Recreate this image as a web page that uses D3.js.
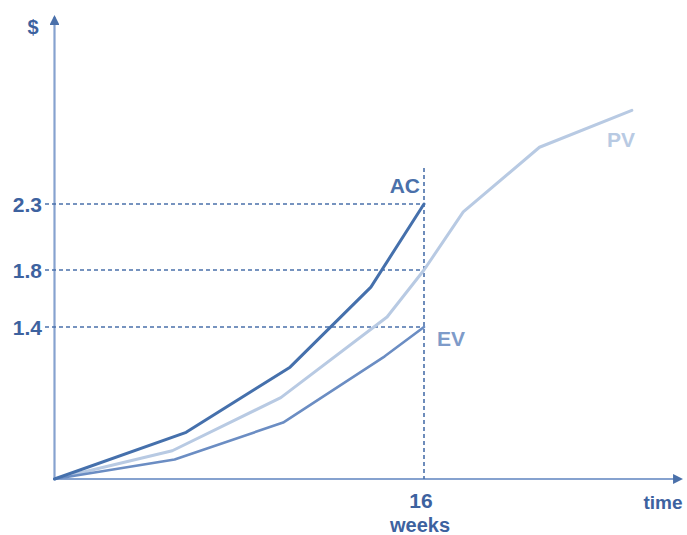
<!DOCTYPE html>
<html>
<head>
<meta charset="utf-8">
<script src="https://cdn.jsdelivr.net/npm/d3@7"></script>
<style>
  html, body { margin: 0; padding: 0; background: #fff; }
  svg { display: block; font-family: "Liberation Sans", Arial, sans-serif; font-weight: bold; }
</style>
</head>
<body>
<svg id="chart" width="687" height="535"></svg>
<script>
// Earned value curves: time in weeks, cost in $
const acWeeks = [0, 5.7, 10.2, 13.7, 16];
const acValues = [0, 0.43, 1.03, 1.68, 2.3];

const pvWeeks = [0, 5.1, 9.8, 14.4, 16, 17.7, 21.0, 25.0];
const pvValues = [0, 0.26, 0.75, 1.47, 1.8, 2.24, 2.73, 3.01];

const evWeeks = [0, 5.2, 9.9, 14.3, 16];
const evValues = [0, 0.18, 0.52, 1.13, 1.4];

const yTickValues = [1.4, 1.8, 2.3];
const xTickValue = 16;
const statusLabels = { ac: "AC", pv: "PV", ev: "EV" };

const svg = d3.select("#chart");
const textColor = "#3d629f";
const axisColor = "#86a2cf";
const guideColor = "#4a70aa";

// Scales: the value axis is piecewise so each labelled level sits on its guide
const x = d3.scaleLinear().domain([0, 16]).range([54.5, 424]);
const y = d3.scaleLinear().domain([0, 1.4, 1.8, 2.3]).range([479, 327, 270, 204]);

// Arrow marker for axes
const defs = svg.append("defs");
defs.append("marker")
  .attr("id", "arrow")
  .attr("viewBox", "0 0 10 10")
  .attr("refX", 8).attr("refY", 5)
  .attr("markerWidth", 4.5).attr("markerHeight", 4.5)
  .attr("orient", "auto")
  .append("path").attr("d", "M0,0 L10,5 L0,10 z").attr("fill", "#4a70aa");

// Axes
svg.append("line")
  .attr("x1", x(0)).attr("y1", y(0)).attr("x2", x(0)).attr("y2", 17)
  .attr("stroke", axisColor).attr("stroke-width", 2.2)
  .attr("marker-end", "url(#arrow)");
svg.append("line")
  .attr("x1", x(0)).attr("y1", y(0)).attr("x2", 681).attr("y2", y(0))
  .attr("stroke", axisColor).attr("stroke-width", 2.2)
  .attr("marker-end", "url(#arrow)");

// Horizontal guides for the labelled levels
svg.selectAll(".hguide").data(yTickValues).join("line")
  .attr("class", "hguide")
  .attr("x1", 45).attr("x2", x(xTickValue))
  .attr("y1", d => y(d)).attr("y2", d => y(d))
  .attr("stroke", guideColor).attr("stroke-width", 1.6)
  .attr("stroke-dasharray", "4,3");

// Vertical status-date guide
svg.append("line")
  .attr("x1", x(xTickValue)).attr("x2", x(xTickValue))
  .attr("y1", 168).attr("y2", y(0))
  .attr("stroke", guideColor).attr("stroke-width", 1.6)
  .attr("stroke-dasharray", "4,3");

// Tick labels
svg.selectAll(".ylab").data(yTickValues).join("text")
  .attr("class", "ylab")
  .attr("x", 42).attr("y", d => y(d))
  .attr("dy", "0.36em")
  .attr("text-anchor", "end")
  .attr("font-size", 21)
  .attr("fill", textColor)
  .text(d => d.toFixed(1));

svg.append("text")
  .attr("x", x(xTickValue) - 3).attr("y", 508)
  .attr("text-anchor", "middle").attr("font-size", 21).attr("fill", textColor)
  .text(xTickValue);
svg.append("text")
  .attr("x", x(xTickValue) - 4).attr("y", 532)
  .attr("text-anchor", "middle").attr("font-size", 20).attr("fill", textColor)
  .text("weeks");
svg.append("text")
  .attr("x", 663).attr("y", 509)
  .attr("text-anchor", "middle").attr("font-size", 19).attr("fill", textColor)
  .text("time");
svg.append("text")
  .attr("x", 33).attr("y", 34)
  .attr("text-anchor", "middle").attr("font-size", 20).attr("fill", textColor)
  .text("$");

// Curves
const line = d3.line().x(d => x(d[0])).y(d => y(d[1]));
const series = [
  { key: "pv", weeks: pvWeeks, values: pvValues, color: "#b8cae3", width: 3 },
  { key: "ev", weeks: evWeeks, values: evValues, color: "#6b8dc3", width: 2.6 },
  { key: "ac", weeks: acWeeks, values: acValues, color: "#4570ac", width: 3 }
];
svg.selectAll(".curve").data(series).join("path")
  .attr("class", "curve")
  .attr("d", s => line(d3.zip(s.weeks, s.values)))
  .attr("fill", "none")
  .attr("stroke", s => s.color)
  .attr("stroke-width", s => s.width)
  .attr("stroke-linejoin", "round")
  .attr("stroke-linecap", "round");

// Series labels
svg.append("text")
  .attr("x", 420).attr("y", 193)
  .attr("text-anchor", "end").attr("font-size", 21).attr("fill", "#4a70aa")
  .text(statusLabels.ac);
svg.append("text")
  .attr("x", 437).attr("y", 346)
  .attr("font-size", 21).attr("fill", "#7e9bc9")
  .text(statusLabels.ev);
svg.append("text")
  .attr("x", 607).attr("y", 147)
  .attr("font-size", 21).attr("fill", "#b8cae3")
  .text(statusLabels.pv);
</script>
</body>
</html>
